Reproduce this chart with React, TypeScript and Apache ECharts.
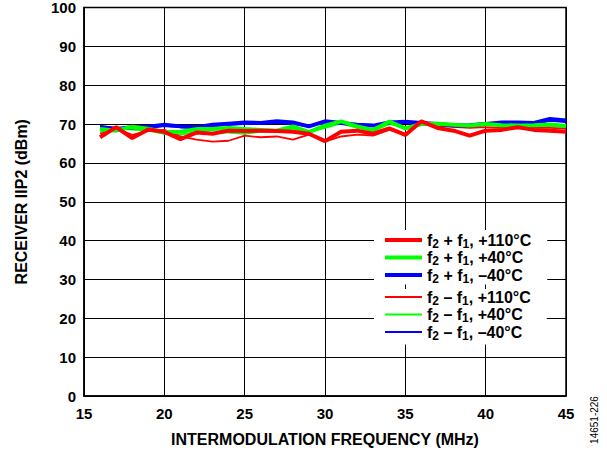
import React, { useEffect, useRef } from "react";
import * as echarts from "echarts";

const freqs = [16, 17, 18, 19, 20, 21, 22, 23, 24, 25, 26, 27, 28, 29, 30, 31, 32, 33, 34, 35, 36, 37, 38, 39, 40, 41, 42, 43, 44, 45];

const sumHot = [66.6, 69.2, 66.4, 68.6, 68.0, 66.1, 67.8, 67.5, 68.3, 68.2, 68.3, 68.2, 68.0, 67.5, 65.6, 68.0, 68.3, 67.5, 68.9, 67.2, 70.7, 69.0, 68.3, 67.0, 68.3, 68.5, 69.2, 68.5, 68.3, 68.0];
const sumRoom = [68.7, 68.3, 69.3, 68.8, 67.9, 68.0, 68.7, 68.7, 69.0, 68.7, 68.5, 68.3, 69.4, 67.9, 69.6, 70.7, 69.4, 68.5, 70.6, 68.9, 70.0, 70.1, 69.8, 69.6, 70.0, 69.7, 69.6, 69.7, 69.9, 69.5];
const sumCold = [69.2, 68.7, 69.2, 69.3, 69.8, 69.4, 69.2, 69.8, 70.1, 70.4, 70.3, 70.7, 70.4, 69.4, 70.7, 70.3, 69.8, 69.6, 70.4, 70.6, 70.3, 70.0, 69.6, 69.7, 70.0, 70.4, 70.4, 70.3, 71.3, 70.9];
const diffHot = [67.5, 68.8, 67.2, 68.2, 68.5, 66.8, 66.0, 65.5, 65.7, 67.0, 66.6, 66.8, 66.0, 67.3, 65.5, 66.8, 67.3, 67.0, 68.5, 67.5, 70.5, 69.5, 69.3, 69.0, 69.2, 69.0, 69.3, 69.0, 69.0, 68.8];
const diffRoom = [68.0, 68.8, 68.6, 68.3, 67.5, 67.3, 68.0, 67.8, 67.8, 67.5, 68.0, 68.2, 68.8, 68.0, 69.0, 70.2, 69.0, 68.2, 70.0, 69.2, 69.8, 70.3, 70.0, 69.8, 70.3, 70.0, 69.5, 69.5, 69.5, 69.3];
const diffCold = [69.5, 69.0, 69.0, 69.0, 69.5, 69.2, 69.5, 69.5, 69.8, 70.0, 70.2, 70.3, 70.0, 69.5, 70.4, 70.0, 69.6, 69.6, 70.0, 70.3, 70.0, 69.8, 69.5, 69.5, 69.8, 70.0, 70.0, 70.0, 70.8, 70.5];

const thickNames = ["f2 + f1, +110°C", "f2 + f1, +40°C", "f2 + f1, –40°C"];
const thinNames = ["f2 – f1, +110°C", "f2 – f1, +40°C", "f2 – f1, –40°C"];
const colors = ["#ff0000", "#00ff00", "#0000ff"];

const FONT = "'Liberation Sans', Arial, Helvetica, sans-serif";

const pairs = (vals: number[]) => freqs.map((f, i) => [f, vals[i]]);

const fmt = (name: string) => {
  const m = name.match(/^f2 (.) f1, (.*)$/);
  if (!m) return name;
  return `{t|f}{s|2}{t| ${m[1]} f}{s|1}{t|, ${m[2]}}`;
};

const rich = {
  t: { fontSize: 16, fontWeight: "bold", fontFamily: FONT, color: "#000", lineHeight: 19 },
  s: { fontSize: 12, fontWeight: "bold", fontFamily: FONT, color: "#000", lineHeight: 12, verticalAlign: "bottom" },
};

export default function App() {
  const ref = useRef<HTMLDivElement>(null);
  useEffect(() => {
    if (!ref.current) return;
    const chart = echarts.init(ref.current, undefined, { renderer: "svg" });
    const thinData = [diffHot, diffRoom, diffCold];
    const thickData = [sumHot, sumRoom, sumCold];
    const series: any[] = [];
    for (let i = 2; i >= 0; i--) {
      series.push({
        name: thinNames[i], type: "line", data: pairs(thinData[i]), showSymbol: false, symbol: "none",
        lineStyle: { color: colors[i], width: 1.8 }, itemStyle: { color: colors[i] }, z: 2,
      });
    }
    for (let i = 2; i >= 0; i--) {
      series.push({
        name: thickNames[i], type: "line", data: pairs(thickData[i]), showSymbol: false, symbol: "none",
        lineStyle: { color: colors[i], width: 4 }, itemStyle: { color: colors[i] }, z: 3,
      });
    }
    const legendBase = {
      orient: "vertical", left: 374, icon: "rect", itemWidth: 37, itemGap: 0,
      backgroundColor: "#fff",
      formatter: fmt, textStyle: { rich, fontSize: 16, fontWeight: "bold", fontFamily: FONT, color: "#000" },
      z: 6,
    };
    chart.setOption({
      animation: false,
      backgroundColor: "#fff",
      grid: { left: 84, right: 41, top: 6, bottom: 57, show: true, borderColor: "#000", borderWidth: 1.5, backgroundColor: "transparent" },
      xAxis: {
        type: "value", min: 15, max: 45, interval: 5,
        name: "INTERMODULATION FREQUENCY (MHz)", nameLocation: "middle", nameGap: 35,
        nameTextStyle: { fontSize: 16, fontWeight: "bold", fontFamily: FONT, color: "#000" },
        axisLine: { lineStyle: { color: "#000", width: 1.5 } }, axisTick: { show: false },
        axisLabel: { fontSize: 15, fontWeight: "bold", fontFamily: FONT, color: "#000", margin: 10 },
        splitLine: { show: true, lineStyle: { color: "#000", width: 1 } },
      },
      yAxis: {
        type: "value", min: 0, max: 100, interval: 10,
        name: "RECEIVER IIP2 (dBm)", nameLocation: "middle", nameGap: 55, nameRotate: 90,
        nameTextStyle: { fontSize: 16, fontWeight: "bold", fontFamily: FONT, color: "#000" },
        axisLine: { lineStyle: { color: "#000", width: 1.5 } }, axisTick: { show: false },
        axisLabel: { fontSize: 15, fontWeight: "bold", fontFamily: FONT, color: "#000", margin: 8 },
        splitLine: { show: true, lineStyle: { color: "#000", width: 1 } },
      },
      legend: [
        { ...legendBase, top: 230, padding: [2, 16, 0, 11], itemHeight: 4, data: thickNames },
        { ...legendBase, top: 289, padding: [0, 16, 3, 11], itemHeight: 2, data: thinNames },
      ],
      graphic: [
        {
          type: "text", x: 594, y: 420, rotation: Math.PI / 2,
          style: { text: "14651-226", fontSize: 10, fontFamily: FONT, fill: "#000", align: "center", verticalAlign: "middle" },
        },
      ],
      series,
    });
    return () => chart.dispose();
  }, []);
  return <div ref={ref} style={{ position: "fixed", left: 0, top: 0, width: 607, height: 453 }} />;
}
